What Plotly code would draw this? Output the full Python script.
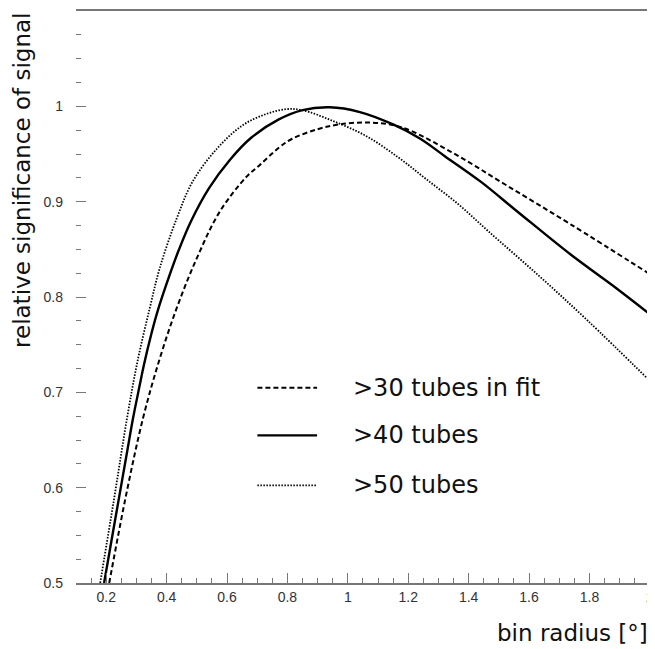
import plotly.graph_objects as go

# >30 tubes in fit (dashed)
x30 = [0.21, 0.267, 0.322, 0.375, 0.433, 0.499, 0.575, 0.664, 0.707, 0.773, 0.816, 0.90, 0.971,
       1.07, 1.178, 1.343, 1.521, 1.739, 2.0]
y30 = [0.5, 0.594, 0.673, 0.733, 0.788, 0.840, 0.889, 0.926, 0.938, 0.957, 0.966, 0.976, 0.981,
       0.983, 0.978, 0.952, 0.918, 0.876, 0.824]

# >40 tubes (solid)
x40 = [0.193, 0.22, 0.245, 0.27, 0.289, 0.31, 0.325, 0.35, 0.37, 0.40, 0.44, 0.48, 0.54, 0.61,
       0.68, 0.77, 0.85, 0.94, 1.04, 1.15, 1.24, 1.32, 1.44, 1.56, 1.74, 1.89, 2.0]
y40 = [0.5, 0.549, 0.594, 0.639, 0.673, 0.706, 0.729, 0.762, 0.785, 0.814, 0.849, 0.879, 0.914, 0.944,
       0.967, 0.986, 0.996, 0.999, 0.994, 0.981, 0.966, 0.948, 0.921, 0.890, 0.844, 0.809, 0.782]

# >50 tubes (dotted)
x50 = [0.18, 0.229, 0.269, 0.304, 0.344, 0.377, 0.433, 0.486, 0.565, 0.651, 0.730, 0.796, 0.849,
       0.948, 1.06, 1.169, 1.258, 1.367, 1.465, 1.63, 1.795, 2.0]
y50 = [0.5, 0.594, 0.673, 0.733, 0.788, 0.830, 0.882, 0.921, 0.955, 0.980, 0.992, 0.997, 0.996,
       0.985, 0.969, 0.946, 0.924, 0.897, 0.869, 0.823, 0.775, 0.712]

names = [">30 tubes in fit", ">40 tubes", ">50 tubes"]
xticks = [0.2, 0.4, 0.6, 0.8, 1.0, 1.2, 1.4, 1.6, 1.8, 2.0]
xticklabels = ["0.2", "0.4", "0.6", "0.8", "1", "1.2", "1.4", "1.6", "1.8", "2"]
yticks = [0.5, 0.6, 0.7, 0.8, 0.9, 1.0]
yticklabels = ["0.5", "0.6", "0.7", "0.8", "0.9", "1"]

styles = [dict(width=2, dash="5px,3px"),
          dict(width=2.4, dash="solid"),
          dict(width=1.8, dash="1.5px,1.5px")]

fig = go.Figure()
for xs, ys, nm, st in zip([x30, x40, x50], [y30, y40, y50], names, styles):
    fig.add_trace(go.Scatter(x=xs, y=ys, mode="lines", name=nm, line_shape="spline",
                             line=dict(color="black", **st), showlegend=False))

# legend drawn manually (sample lines + labels)
leg_y = [0.3415, 0.258, 0.1707]
for ly, nm, st in zip(leg_y, names, styles):
    fig.add_shape(type="line", xref="paper", yref="paper", x0=0.316, x1=0.42, y0=ly, y1=ly,
                  line=dict(color="black", **st))
    fig.add_annotation(text=nm, xref="paper", yref="paper", x=0.479, y=ly, xanchor="left",
                       yanchor="middle", showarrow=False,
                       font=dict(family="DejaVu Sans", size=24, color="#111"))

fig.add_annotation(text="relative significance of signal", xref="paper", yref="paper",
                   x=-0.095, y=1.0, xanchor="center", yanchor="top", textangle=-90,
                   showarrow=False, font=dict(family="DejaVu Sans", size=23, color="#111"))
fig.add_annotation(text="bin radius [°]", xref="paper", yref="paper",
                   x=1.0, y=-0.087, xanchor="right", yanchor="middle",
                   showarrow=False, font=dict(family="DejaVu Sans", size=23, color="#111"))

fig.update_layout(
    width=647, height=641,
    margin=dict(l=68, r=3, t=1, b=66),
    paper_bgcolor="white", plot_bgcolor="white",
    xaxis=dict(range=[0.1, 2.0005], tickvals=xticks, ticktext=xticklabels,
               ticks="inside", ticklen=10, tickcolor="#777", tickwidth=1,
               ticklabeloverflow="allow",
               minor=dict(dtick=0.05, tick0=0, ticks="inside", ticklen=5, tickcolor="#777"),
               showline=True, linecolor="#777", linewidth=1.5, mirror=True,
               showgrid=False, zeroline=False,
               tickfont=dict(family="Liberation Sans", size=14, color="#333")),
    yaxis=dict(range=[0.5, 1.1], tickvals=yticks, ticktext=yticklabels,
               ticks="inside", ticklen=10, tickcolor="#777", tickwidth=1,
               minor=dict(dtick=0.025, tick0=0.5, ticks="inside", ticklen=5, tickcolor="#777"),
               showline=False, showgrid=False, zeroline=False, ticklabelstandoff=12,
               tickfont=dict(family="Liberation Sans", size=14, color="#333")),
)

fig.write_html("out.html")
